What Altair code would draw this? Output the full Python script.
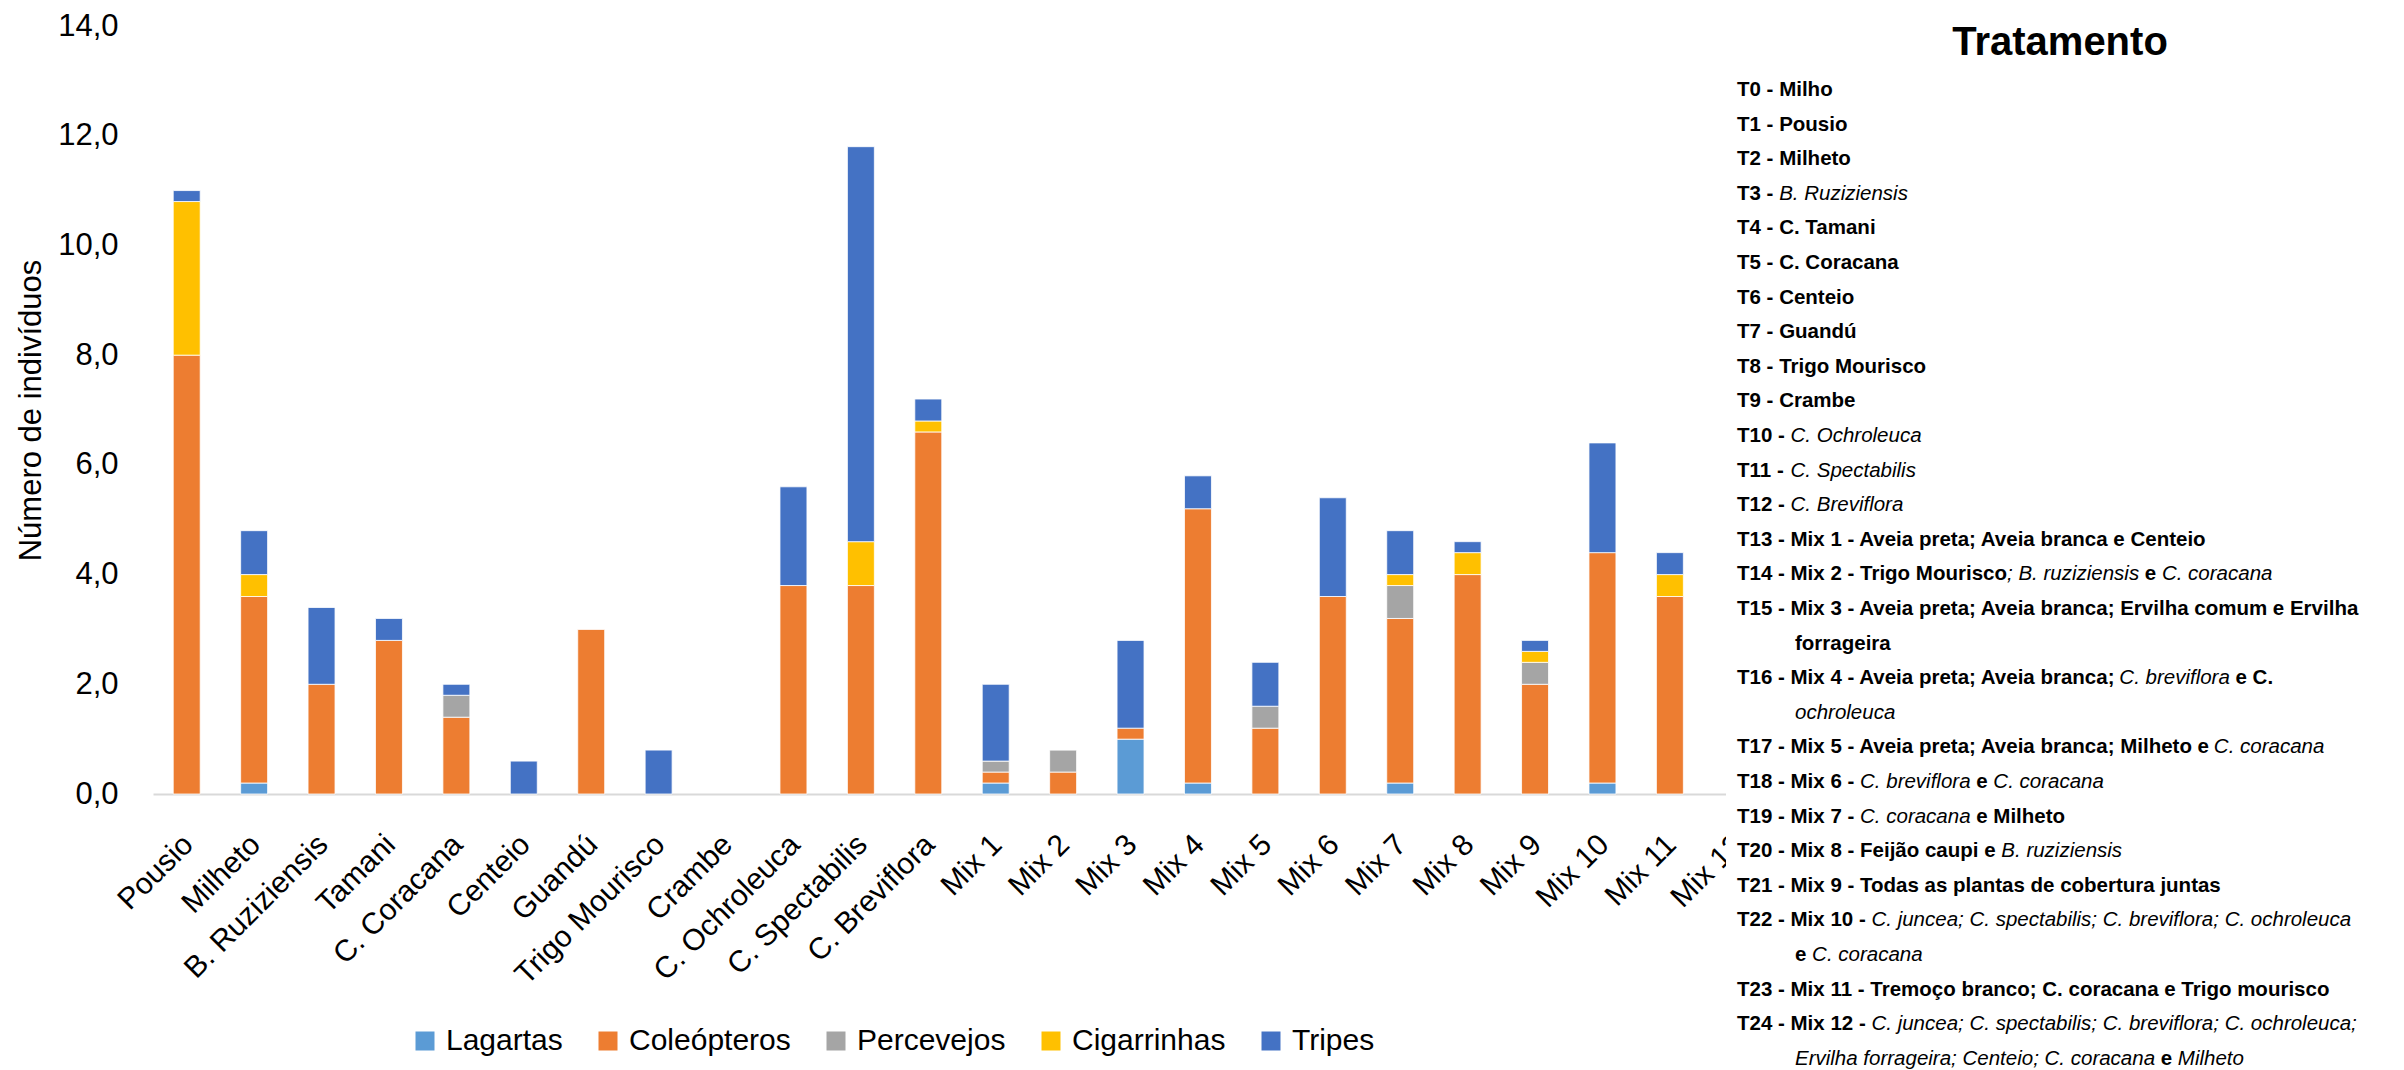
import unicodedata
import altair as alt
import pandas as pd

# ---------------- data ----------------
categories = ["Pousio", "Milheto", "B. Ruziziensis", "Tamani", "C. Coracana", "Centeio",
              "Guandú", "Trigo Mourisco", "Crambe", "C. Ochroleuca", "C. Spectabilis",
              "C. Breviflora", "Mix 1", "Mix 2", "Mix 3", "Mix 4", "Mix 5", "Mix 6",
              "Mix 7", "Mix 8", "Mix 9", "Mix 10", "Mix 11", "Mix 12"]
groups = ["Lagartas", "Coleópteros", "Percevejos", "Cigarrinhas", "Tripes"]
colors = ["#5B9BD5", "#ED7D31", "#A5A5A5", "#FFC000", "#4472C4"]

# values for the first 23 treatments (Mix 12 is hidden behind the text box)
lagartas    = [0, 0.2, 0, 0, 0, 0, 0, 0, 0, 0, 0, 0, 0.2, 0, 1.0, 0.2, 0, 0, 0.2, 0, 0, 0.2, 0]
coleopteros = [8.0, 3.4, 2.0, 2.8, 1.4, 0, 3.0, 0, 0, 3.8, 3.8, 6.6, 0.2, 0.4, 0.2, 5.0, 1.2, 3.6, 3.0, 4.0, 2.0, 4.2, 3.6]
percevejos  = [0, 0, 0, 0, 0.4, 0, 0, 0, 0, 0, 0, 0, 0.2, 0.4, 0, 0, 0.4, 0, 0.6, 0, 0.4, 0, 0]
cigarrinhas = [2.8, 0.4, 0, 0, 0, 0, 0, 0, 0, 0, 0.8, 0.2, 0, 0, 0, 0, 0, 0, 0.2, 0.4, 0.2, 0, 0.4]
tripes      = [0.2, 0.8, 1.4, 0.4, 0.2, 0.6, 0, 0.8, 0, 1.8, 7.2, 0.4, 1.4, 0, 1.6, 0.6, 0.8, 1.8, 0.8, 0.2, 0.2, 2.0, 0.4]

y_ticks = [0, 2, 4, 6, 8, 10, 12, 14]

legend_title = "Tratamento"
legend_lines = [
    (0, "T0 - Milho"),
    (0, "T1 - Pousio"),
    (0, "T2 - Milheto"),
    (0, "T3 - _B. Ruziziensis_"),
    (0, "T4 - C. Tamani"),
    (0, "T5 - C. Coracana"),
    (0, "T6 - Centeio"),
    (0, "T7 - Guandú"),
    (0, "T8 - Trigo Mourisco"),
    (0, "T9 - Crambe"),
    (0, "T10 - _C. Ochroleuca_"),
    (0, "T11 - _C. Spectabilis_"),
    (0, "T12 - _C. Breviflora_"),
    (0, "T13 - Mix 1 - Aveia preta; Aveia branca e Centeio"),
    (0, "T14 - Mix 2 - Trigo Mourisco_; B. ruziziensis_ e _C. coracana_"),
    (0, "T15 - Mix 3 - Aveia preta; Aveia branca; Ervilha comum e Ervilha"),
    (1, "forrageira"),
    (0, "T16 - Mix 4 - Aveia preta; Aveia branca; _C. breviflora_ e C."),
    (1, "_ochroleuca_"),
    (0, "T17 - Mix 5 - Aveia preta; Aveia branca; Milheto e _C. coracana_"),
    (0, "T18 - Mix 6 - _C. breviflora_ e _C. coracana_"),
    (0, "T19 - Mix 7 - _C. coracana_ e Milheto"),
    (0, "T20 - Mix 8 - Feijão caupi e _B. ruziziensis_"),
    (0, "T21 - Mix 9 - Todas as plantas de cobertura juntas"),
    (0, "T22 - Mix 10 - _C. juncea; C. spectabilis; C. breviflora; C. ochroleuca_"),
    (1, "e _C. coracana_"),
    (0, "T23 - Mix 11 -  Tremoço branco; C. coracana e Trigo mourisco"),
    (0, "T24 - Mix 12 - _C. juncea; C. spectabilis; C. breviflora; C. ochroleuca;_"),
    (1, "_Ervilha forrageira; Centeio; C. coracana_ e _Milheto_"),
]

# ---------------- layout ----------------
TOTAL_W, TOTAL_H = 2404, 1070
LEFT, TOP = 153, 26
PLOT_W, PLOT_H = 1618, 768
BOX_X = 1726            # left edge of the white text box (page px)
SANS = "Liberation Sans, Arial, sans-serif"
LIST_SIZE = 20.5
LINE_Y0, LINE_STEP = 96, 34.6     # baseline of first line, line spacing
TEXT_X, INDENT_X = 1737, 1795

# Arial / Liberation Sans advance widths (per 1000 em)
REG = dict(zip(" ,-.;", [278, 278, 333, 278, 278]))
REG.update({d: 556 for d in "0123456789"})
REG.update(dict(zip("ABCDEFGHIJKLMNOPQRSTUVWXYZ",
    [667, 667, 722, 722, 667, 611, 778, 722, 278, 500, 667, 556, 833, 722, 778, 667, 778, 722, 667, 611, 722, 667, 944, 667, 667, 611])))
REG.update(dict(zip("abcdefghijklmnopqrstuvwxyz",
    [556, 556, 500, 556, 556, 278, 556, 556, 222, 222, 500, 222, 833, 556, 556, 556, 556, 333, 500, 278, 556, 500, 722, 500, 500, 500])))
BOLD = dict(zip(" ,-.;", [278, 278, 333, 278, 333]))
BOLD.update({d: 556 for d in "0123456789"})
BOLD.update(dict(zip("ABCDEFGHIJKLMNOPQRSTUVWXYZ",
    [722, 722, 722, 722, 667, 611, 778, 722, 278, 556, 722, 611, 833, 722, 778, 667, 778, 722, 667, 611, 722, 667, 944, 667, 667, 611])))
BOLD.update(dict(zip("abcdefghijklmnopqrstuvwxyz",
    [556, 611, 556, 611, 556, 333, 611, 611, 278, 278, 556, 278, 889, 611, 611, 611, 611, 389, 556, 333, 611, 556, 778, 556, 556, 500])))
KERN = {(" ", "A"): -55, ("A", "v"): -40, (" ", "T"): -18, ("T", "r"): -37}


def text_width(s, bold, size):
    tbl = BOLD if bold else REG
    tot = 0
    prev = None
    for ch in s:
        base = unicodedata.normalize("NFD", ch)[0]
        tot += tbl.get(base, 556)
        if prev is not None:
            tot += KERN.get((prev, base), 0)
        prev = base
    return tot * size / 1000.0


seg_rows = []
for i, (indent, line) in enumerate(legend_lines):
    cursor = INDENT_X if indent else TEXT_X
    y = LINE_Y0 + LINE_STEP * i
    parts = line.split("_")
    for k, part in enumerate(parts):
        italic = (k % 2 == 1)
        bold = not italic
        if part.strip():
            lead = len(part) - len(part.lstrip(" "))
            seg_rows.append({
                "px": cursor + text_width(" " * lead, bold, LIST_SIZE) - LEFT,
                "py": y - TOP,
                "txt": part.strip(),
                "style": "italic" if italic else "bold",
            })
        cursor += text_width(part, bold, LIST_SIZE)
seg_df = pd.DataFrame(seg_rows)

# ---------------- bar data ----------------
series = [lagartas, coleopteros, percevejos, cigarrinhas, tripes]
rows = []
for gi, (g, vals) in enumerate(zip(groups, series)):
    for ci, v in enumerate(vals):
        if v > 0:
            rows.append({"cat": categories[ci], "group": g, "value": v, "ord": gi})
df = pd.DataFrame(rows)

bars = alt.Chart(df).mark_bar(stroke="white", strokeWidth=0.8).encode(
    x=alt.X("cat:N", sort=categories,
            scale=alt.Scale(domain=categories, paddingInner=0.6, paddingOuter=0.3),
            axis=alt.Axis(title=None, labelAngle=-45, labelFont=SANS, labelFontSize=30,
                          labelColor="black", ticks=False, domainColor="#d9d9d9",
                          domainWidth=2, labelPadding=35, labelOffset=-9,
                          labelAlign="right", labelBaseline="top",
                          labelOverlap=False, labelLimit=400)),
    y=alt.Y("value:Q", stack="zero",
            scale=alt.Scale(domain=[0, 14], nice=False),
            axis=alt.Axis(title="Número de indivíduos", values=y_ticks,
                          labelExpr="replace(format(datum.value, '.1f'), '.', ',')",
                          labelFont=SANS, labelFontSize=31, labelColor="black",
                          labelPadding=35, ticks=False, domain=False, grid=False,
                          titleFont=SANS, titleFontSize=31, titleFontWeight="normal",
                          titleColor="black", titleX=31 - LEFT, titleY=PLOT_H / 2,
                          titleAngle=-90, titleAlign="center", titleBaseline="middle")),
    color=alt.Color("group:N", scale=alt.Scale(domain=groups, range=colors),
                    legend=alt.Legend(title=None, orient="none", direction="horizontal",
                                      legendX=410 - LEFT, legendY=1042 - TOP - 16,
                                      symbolType="square", symbolSize=361,
                                      symbolStrokeWidth=0, labelFont=SANS,
                                      labelFontSize=30, labelColor="black",
                                      labelOffset=6, columnPadding=30,
                                      labelLimit=400)),
    order=alt.Order("ord:Q"),
)

cover = alt.Chart(pd.DataFrame({"k": [0]})).mark_rect(color="white").encode(
    x=alt.value(BOX_X - LEFT), x2=alt.value(TOTAL_W - LEFT + 10),
    y=alt.value(-TOP), y2=alt.value(TOTAL_H - TOP + 10))

title_txt = alt.Chart(pd.DataFrame({"t": [legend_title]})).mark_text(
    font=SANS, fontWeight="bold", fontSize=40, align="center", baseline="alphabetic",
    color="black").encode(
    x=alt.value(2060 - LEFT), y=alt.value(55 - TOP), text="t:N")

bold_txt = alt.Chart(seg_df[seg_df["style"] == "bold"]).mark_text(
    font=SANS, fontWeight="bold", fontSize=LIST_SIZE, align="left",
    baseline="alphabetic", color="black").encode(
    x=alt.X("px:Q", scale=None, axis=None),
    y=alt.Y("py:Q", scale=None, axis=None), text="txt:N")

ital_txt = alt.Chart(seg_df[seg_df["style"] == "italic"]).mark_text(
    font=SANS, fontStyle="italic", fontWeight="normal", fontSize=LIST_SIZE,
    align="left", baseline="alphabetic", color="black").encode(
    x=alt.X("px:Q", scale=None, axis=None),
    y=alt.Y("py:Q", scale=None, axis=None), text="txt:N")

chart = alt.layer(bars, cover, title_txt, bold_txt, ital_txt).resolve_scale(
    x="independent", y="independent"
).properties(
    width=PLOT_W, height=PLOT_H,
    autosize=alt.AutoSizeParams(type="none"),
    padding={"left": LEFT, "top": TOP, "right": TOTAL_W - LEFT - PLOT_W,
             "bottom": TOTAL_H - TOP - PLOT_H},
    background="white",
).configure_view(stroke=None)

chart.save("out.html", embed_options={"renderer": "svg", "actions": False})
